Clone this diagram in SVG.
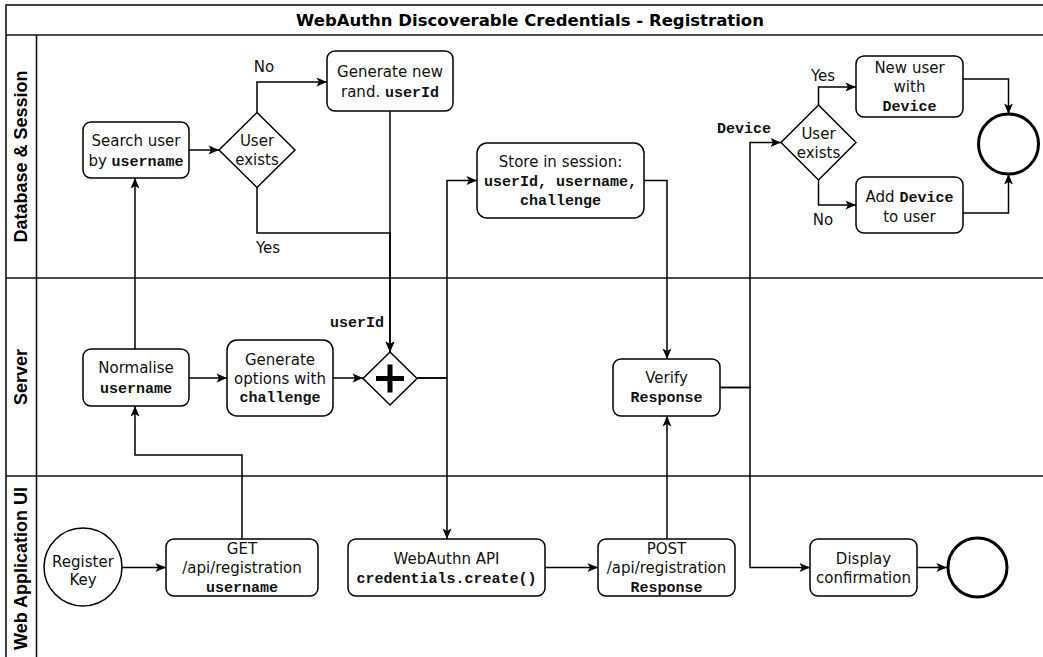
<svg xmlns="http://www.w3.org/2000/svg" width="1043" height="657" viewBox="0 0 1043 657">
  <style>
    .frame { fill: none; stroke: #111; stroke-width: 1.6; }
    .box { fill: #fff; stroke: #000; stroke-width: 1.5; }
    .end { fill: #fff; stroke: #000; stroke-width: 3; }
    .edge { fill: none; stroke: #000; stroke-width: 1.5; }
    .t { font-family: "DejaVu Sans", sans-serif; font-size: 15px; fill: #111; text-anchor: middle; }
    .m { font-family: "Liberation Mono", monospace; font-weight: bold; }
    .lane { font-family: "Liberation Sans", Arial, sans-serif; font-weight: bold; font-size: 18px; fill: #000; text-anchor: middle; dominant-baseline: central; }
    .title { font-family: "DejaVu Sans", sans-serif; font-weight: bold; font-size: 16.5px; fill: #000; text-anchor: middle; }
  </style>
  <defs>
    <marker id="arrow" markerUnits="userSpaceOnUse" markerWidth="12" markerHeight="10" viewBox="0 0 12 10" refX="11.5" refY="5" orient="auto">
      <path d="M1,0.5 L11.5,5 L1,9.5 L3.5,5 Z" fill="#000"/>
    </marker>
  </defs>

  <rect width="1043" height="657" fill="#fff"/>

  <!-- pool with title band and three lanes -->
  <g id="pool">
    <rect class="frame" x="6" y="5" width="1060" height="670"/>
    <line class="frame" x1="6" y1="35" x2="1060" y2="35"/>
    <line class="frame" x1="36.5" y1="35" x2="36.5" y2="670"/>
    <line class="frame" x1="6" y1="278" x2="1060" y2="278"/>
    <line class="frame" x1="6" y1="476" x2="1060" y2="476"/>
    <text class="title" x="530" y="25.5">WebAuthn Discoverable Credentials - Registration</text>
    <text class="lane" transform="translate(21,156.5) rotate(-90)">Database &amp; Session</text>
    <text class="lane" transform="translate(21,377) rotate(-90)">Server</text>
    <text class="lane" transform="translate(21,568.5) rotate(-90)">Web Application UI</text>
  </g>

  <!-- connectors -->
  <g id="connectors">
    <path class="edge" marker-end="url(#arrow)" d="M122,567.5 H166"/>
    <path class="edge" marker-end="url(#arrow)" d="M242,539 V455 H135 V406"/>
    <path class="edge" marker-end="url(#arrow)" d="M135,349 V178"/>
    <path class="edge" marker-end="url(#arrow)" d="M189,150 H219"/>
    <path class="edge" marker-end="url(#arrow)" d="M257,112.5 V82 H327"/>
    <path class="edge" marker-end="url(#arrow)" d="M257,187.5 V233 H390 V352"/>
    <path class="edge" marker-end="url(#arrow)" d="M390,111 V352"/>
    <path class="edge" marker-end="url(#arrow)" d="M189,378 H227"/>
    <path class="edge" marker-end="url(#arrow)" d="M333,378 H363"/>
    <path class="edge" marker-end="url(#arrow)" d="M417,378 H447 V180.5 H477"/>
    <path class="edge" marker-end="url(#arrow)" d="M417,378 H447 V539"/>
    <path class="edge" marker-end="url(#arrow)" d="M644,180.5 H667 V359"/>
    <path class="edge" marker-end="url(#arrow)" d="M545,567.5 H598"/>
    <path class="edge" marker-end="url(#arrow)" d="M667,539 V416"/>
    <path class="edge" marker-end="url(#arrow)" d="M720,387.5 H750 V142.5 H781"/>
    <path class="edge" marker-end="url(#arrow)" d="M720,387.5 H750 V567.5 H810"/>
    <path class="edge" marker-end="url(#arrow)" d="M917,567.5 H947"/>
    <path class="edge" marker-end="url(#arrow)" d="M818.5,105 V87 H856"/>
    <path class="edge" marker-end="url(#arrow)" d="M818.5,180 V205 H856"/>
    <path class="edge" marker-end="url(#arrow)" d="M963,79 H1008.5 V114"/>
    <path class="edge" marker-end="url(#arrow)" d="M963,213 H1008.5 V174"/>
    <text class="t" x="264" y="72">No</text>
    <text class="t" x="268" y="253">Yes</text>
    <text class="t m" x="357" y="327">userId</text>
    <text class="t m" x="744" y="133">Device</text>
    <text class="t" x="823" y="81">Yes</text>
    <text class="t" x="823" y="225">No</text>
  </g>

  <!-- Database & Session lane -->
  <g id="search-user">
    <rect class="box" x="83" y="122" width="106" height="56" rx="8"/>
    <text class="t" x="136" y="146">Search user</text>
    <text class="t" x="136" y="165.5">by <tspan class="m">username</tspan></text>
  </g>
  <g id="user-exists-1">
    <polygon class="box" points="257,112.5 295,150 257,187.5 219,150"/>
    <text class="t" x="257" y="146">User</text>
    <text class="t" x="257" y="165">exists</text>
  </g>
  <g id="generate-userid">
    <rect class="box" x="327" y="51" width="126" height="60" rx="8"/>
    <text class="t" x="390" y="77">Generate new</text>
    <text class="t" x="390" y="96.5">rand. <tspan class="m">userId</tspan></text>
  </g>
  <g id="store-session">
    <rect class="box" x="477" y="143" width="167" height="75" rx="10"/>
    <text class="t" x="560.5" y="166.5">Store in session:</text>
    <text class="t m" x="560.5" y="185.5">userId, username,</text>
    <text class="t m" x="560.5" y="205">challenge</text>
  </g>
  <g id="user-exists-2">
    <polygon class="box" points="818.5,105 856,142.5 818.5,180 781,142.5"/>
    <text class="t" x="818.5" y="139">User</text>
    <text class="t" x="818.5" y="158">exists</text>
  </g>
  <g id="new-user">
    <rect class="box" x="856" y="56" width="107" height="61" rx="8"/>
    <text class="t" x="909.5" y="73">New user</text>
    <text class="t" x="909.5" y="92">with</text>
    <text class="t m" x="909.5" y="111">Device</text>
  </g>
  <g id="add-device">
    <rect class="box" x="856" y="177" width="107" height="56" rx="8"/>
    <text class="t" x="909.5" y="201.5">Add <tspan class="m">Device</tspan></text>
    <text class="t" x="909.5" y="221.5">to user</text>
  </g>
  <g id="end-db">
    <circle class="end" cx="1008.5" cy="144" r="30"/>
  </g>

  <!-- Server lane -->
  <g id="normalise">
    <rect class="box" x="83" y="349" width="106" height="57" rx="8"/>
    <text class="t" x="136" y="373">Normalise</text>
    <text class="t m" x="136" y="392.5">username</text>
  </g>
  <g id="generate-options">
    <rect class="box" x="227" y="340" width="106" height="76" rx="10"/>
    <text class="t" x="280" y="365">Generate</text>
    <text class="t" x="280" y="383.5">options with</text>
    <text class="t m" x="280" y="402">challenge</text>
  </g>
  <g id="parallel-gateway">
    <polygon class="box" points="390,352 417,378.5 390,405 363,378.5"/>
    <path d="M376,378.5 H404 M390,364.5 V392.5" stroke="#000" stroke-width="5" fill="none"/>
  </g>
  <g id="verify-response">
    <rect class="box" x="613" y="359" width="107" height="57" rx="8"/>
    <text class="t" x="666.5" y="383">Verify</text>
    <text class="t m" x="666.5" y="402">Response</text>
  </g>

  <!-- Web Application UI lane -->
  <g id="register-key">
    <circle class="box" cx="83" cy="567" r="39"/>
    <text class="t" x="83" y="566.5">Register</text>
    <text class="t" x="83" y="585">Key</text>
  </g>
  <g id="get-registration">
    <rect class="box" x="166" y="539" width="152" height="57" rx="8"/>
    <text class="t" x="242" y="554">GET</text>
    <text class="t" x="242" y="573">/api/registration</text>
    <text class="t m" x="242" y="592">username</text>
  </g>
  <g id="webauthn-api">
    <rect class="box" x="348" y="539" width="197" height="57" rx="8"/>
    <text class="t" x="446.5" y="564">WebAuthn API</text>
    <text class="t m" x="446.5" y="582.5">credentials.create()</text>
  </g>
  <g id="post-registration">
    <rect class="box" x="598" y="539" width="137" height="57" rx="8"/>
    <text class="t" x="666.5" y="554">POST</text>
    <text class="t" x="666.5" y="573">/api/registration</text>
    <text class="t m" x="666.5" y="592">Response</text>
  </g>
  <g id="display-confirmation">
    <rect class="box" x="810" y="539" width="107" height="57" rx="8"/>
    <text class="t" x="863.5" y="564">Display</text>
    <text class="t" x="863.5" y="583">confirmation</text>
  </g>
  <g id="end-ui">
    <circle class="end" cx="977.5" cy="567.5" r="29.5"/>
  </g>
</svg>
